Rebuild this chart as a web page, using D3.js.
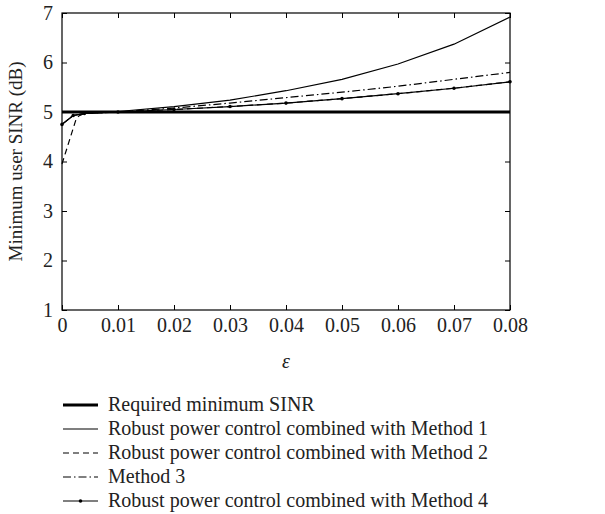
<!DOCTYPE html>
<html>
<head>
<meta charset="utf-8">
<script src="https://cdn.jsdelivr.net/npm/d3@7"></script>
<style>
  body { margin: 0; background: #fff; }
  text { font-family: "Liberation Serif", "Times New Roman", serif; fill: #222; }
</style>
</head>
<body>
<div id="chart"></div>
<script>
// data
const epsTicks = [0, 0.01, 0.02, 0.03, 0.04, 0.05, 0.06, 0.07, 0.08];
const sinrTicks = [1, 2, 3, 4, 5, 6, 7];

const requiredEps = [0, 0.08];
const requiredSinr = [5, 5];

const eps = [0, 0.002, 0.004, 0.01, 0.02, 0.03, 0.04, 0.05, 0.06, 0.07, 0.08];
const method1 = [4.75, 4.93, 4.97, 5.01, 5.11, 5.24, 5.43, 5.66, 5.97, 6.37, 6.92];
const method3 = [4.75, 4.93, 4.97, 5.0, 5.08, 5.18, 5.29, 5.4, 5.52, 5.66, 5.8];
const method4 = [4.75, 4.93, 4.97, 5.0, 5.05, 5.11, 5.18, 5.27, 5.37, 5.48, 5.61];

const eps2 = [0, 0.0025, 0.003, 0.004, 0.01, 0.02, 0.03, 0.04, 0.05, 0.06, 0.07, 0.08];
const method2 = [3.95, 4.85, 4.92, 4.97, 5.0, 5.05, 5.11, 5.18, 5.27, 5.37, 5.48, 5.61];

const legendLabels = [
  "Required minimum SINR",
  "Robust power control combined with Method 1",
  "Robust power control combined with Method 2",
  "Method 3",
  "Robust power control combined with Method 4"
];

const W = 605, H = 514;
const m = { left: 62, right: 95, top: 13, bottom: 204 };

const svg = d3.select("#chart").append("svg")
  .attr("width", W).attr("height", H);

const x = d3.scaleLinear().domain([0, 0.08]).range([m.left, W - m.right]);
const y = d3.scaleLinear().domain([1, 7]).range([H - m.bottom, m.top]);

// frame
svg.append("rect")
  .attr("x", x(0)).attr("y", y(7))
  .attr("width", x(0.08) - x(0)).attr("height", y(1) - y(7))
  .attr("fill", "none").attr("stroke", "#000").attr("stroke-width", 1.2);

const fmtX = d => d === 0 ? "0" : d3.format(".2f")(d);

// axes with inward ticks
const xb = svg.append("g").attr("transform", `translate(0,${y(1)})`)
  .call(d3.axisBottom(x).tickValues(epsTicks).tickSize(-5).tickPadding(8).tickFormat(fmtX));
const xt = svg.append("g").attr("transform", `translate(0,${y(7)})`)
  .call(d3.axisTop(x).tickValues(epsTicks).tickSize(-5).tickFormat(""));
const yl = svg.append("g").attr("transform", `translate(${x(0)},0)`)
  .call(d3.axisLeft(y).tickValues(sinrTicks).tickSize(-5).tickPadding(9).tickFormat(d3.format("d")));
const yr = svg.append("g").attr("transform", `translate(${x(0.08)},0)`)
  .call(d3.axisRight(y).tickValues(sinrTicks).tickSize(-5).tickFormat(""));

[xb, xt, yl, yr].forEach(g => {
  g.select(".domain").remove();
  g.selectAll(".tick line").attr("stroke", "#000").attr("stroke-width", 1);
  g.selectAll("text").style("font-size", "20px").attr("fill", "#222")
    .style("font-family", '"Liberation Serif", serif');
});

// axis labels
svg.append("text")
  .attr("x", (x(0) + x(0.08)) / 2).attr("y", 368)
  .attr("text-anchor", "middle").style("font-size", "20px").style("font-style", "italic")
  .text("ε");

svg.append("text")
  .attr("transform", `translate(22,${(y(1) + y(7)) / 2}) rotate(-90)`)
  .attr("text-anchor", "middle").style("font-size", "19px")
  .text("Minimum user SINR (dB)");

const line = d3.line().x(d => x(d[0])).y(d => y(d[1]));
const zip = (a, b) => a.map((v, i) => [v, b[i]]);

const styles = [
  { w: 3, dash: null },
  { w: 1.2, dash: null },
  { w: 1.2, dash: "6,4" },
  { w: 1.2, dash: "8,3,1.5,3" },
  { w: 1.2, dash: null, dots: true }
];

const series = [
  zip(requiredEps, requiredSinr),
  zip(eps, method1),
  zip(eps2, method2),
  zip(eps, method3),
  zip(eps, method4)
];

series.forEach((s, i) => {
  svg.append("path")
    .attr("d", line(s))
    .attr("fill", "none").attr("stroke", "#000")
    .attr("stroke-width", styles[i].w)
    .attr("stroke-dasharray", styles[i].dash);
  if (styles[i].dots) {
    svg.selectAll(".dot" + i).data(s).enter().append("circle")
      .attr("cx", d => x(d[0])).attr("cy", d => y(d[1]))
      .attr("r", 1.8).attr("fill", "#000");
  }
});

// legend
const lg = svg.append("g");
legendLabels.forEach((lab, i) => {
  const cy = 405 + i * 24;
  lg.append("line")
    .attr("x1", 63).attr("x2", 98).attr("y1", cy).attr("y2", cy)
    .attr("stroke", "#000").attr("stroke-width", styles[i].w)
    .attr("stroke-dasharray", styles[i].dash);
  if (styles[i].dots) {
    lg.append("circle").attr("cx", 80.5).attr("cy", cy).attr("r", 1.8).attr("fill", "#000");
  }
  lg.append("text")
    .attr("x", 108).attr("y", cy + 6)
    .style("font-size", "20px")
    .text(lab);
});
</script>
</body>
</html>
